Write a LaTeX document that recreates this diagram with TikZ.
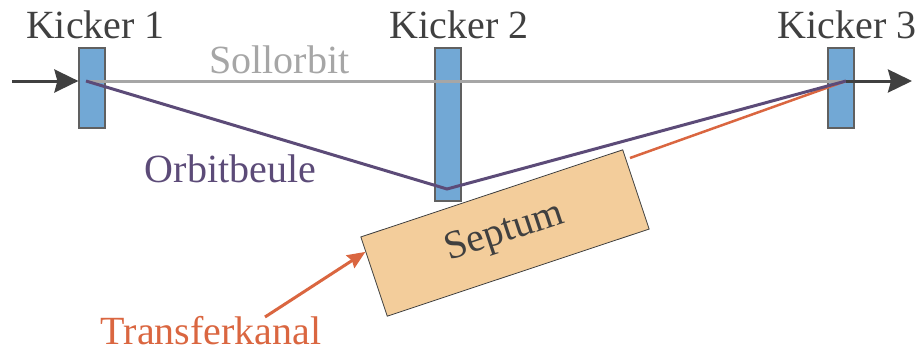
\documentclass[tikz,border=0pt]{standalone}
\usepackage{fontspec}
\newfontfamily\tnr{Liberation Serif}
\usetikzlibrary{arrows.meta,calc}
\definecolor{kblue}{HTML}{72A8D5}
\definecolor{kborder}{HTML}{606060}
\definecolor{dgray}{HTML}{404040}
\definecolor{lgray}{HTML}{A6A6A6}
\definecolor{purp}{HTML}{5C4B78}
\definecolor{oran}{HTML}{DA6640}
\definecolor{sept}{HTML}{F3CD9B}
\newcommand{\lab}[2]{\textcolor{#1}{\tnr\fontsize{40}{48}\selectfont #2}}
\tikzset{
  kicker/.style={draw=kborder, line width=1.2pt, fill=kblue, minimum width=26pt, inner sep=0pt},
  lbl/.style={anchor=base, inner sep=0pt},
  bigtip/.style={-{Stealth[inset=3pt,length=24pt,width=23pt]}},
}
\begin{document}
\begin{tikzpicture}[x=1pt,y=-1pt]
\useasboundingbox (0,0) rectangle (922,356);
% kickers
\node[kicker, minimum height=80pt] (k1) at (92,88) {};
\node[kicker, minimum height=153pt] (k2) at (448,124.5) {};
\node[kicker, minimum height=80pt] (k3) at (841,88) {};
% labels
\node[lbl] (l1) at (95.5,38) {\lab{dgray}{Kicker 1}};
\node[lbl] (l2) at (459,38) {\lab{dgray}{Kicker 2}};
\node[lbl] (l3) at (847,38) {\lab{dgray}{Kicker 3}};
\node[lbl] (sol) at (279.5,73) {\lab{lgray}{Sollorbit}};
\node[lbl] (orb) at (230.5,182) {\lab{purp}{Orbitbeule}};
\node[lbl] (tk) at (211,344) {\lab{oran}{Transferkanal}};
% coordinates
\coordinate (s) at (12,81);
\coordinate (p1) at (86,81);
\coordinate (p2) at (447,189);
\coordinate (p3) at (846,81);
\coordinate (e) at (912,81);
\coordinate (inj) at (630,158);
\coordinate (ta) at (265,317);
% injection line (behind septum)
\draw[oran, line width=2.5pt] (p3) -- (inj);
% septum
\node[draw=dgray, line width=0.8pt, fill=sept, minimum width=276pt, minimum height=83.5pt, inner sep=0pt, rotate=18.4] (sep) at (505,233) {\lab{dgray}{Septum}};
% orbits
\draw[lgray, line width=3pt] (p1) -- (p3);
\draw[purp, line width=3pt, line join=miter] (p1) -- (p2) -- (p3);
% arrows
\draw[dgray, line width=3pt, bigtip] (s) -- (k1.west |- s);
\draw[dgray, line width=3pt, bigtip] (p3) -- (e);
\draw[oran, line width=3pt, -{Stealth[inset=2pt,length=18pt,width=15pt]}] (ta) -- ($(sep.north west)!0.19!(sep.south west)$);
\end{tikzpicture}
\end{document}
